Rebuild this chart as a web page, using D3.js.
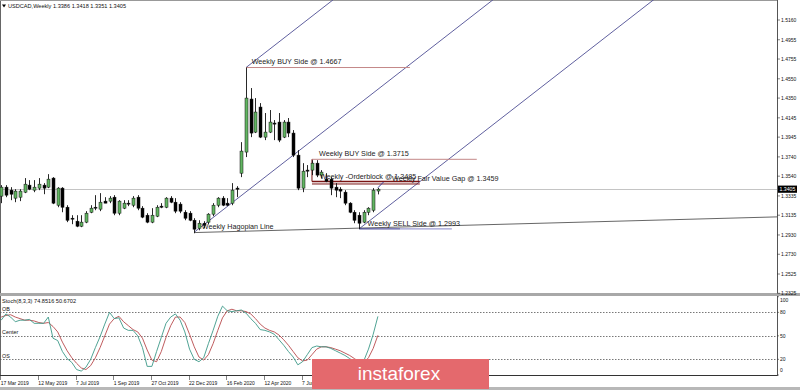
<!DOCTYPE html>
<html>
<head>
<meta charset="utf-8">
<script src="https://cdn.jsdelivr.net/npm/d3@7"></script>
<style>
body { margin: 0; background: #fff; }
svg text { font-family: "Liberation Sans", Arial, sans-serif; }
</style>
</head>
<body>
<div id="chart"></div>
<script>
var W = 800, H = 390,
    axisX = 777,
    mainBot = 293,
    stTop = 296, stBot = 375;

// weekly USDCAD candles, week of 17 Mar 2019 (index 0) .. 27 Sep 2020 (index 80)
var opens  = [1.3333,1.3426,1.3395,1.3312,1.3322,1.3374,1.3447,1.3395,1.3416,1.3447,
              1.3426,1.3520,1.3239,1.3416,1.3218,1.3104,1.3073,1.3021,1.3063,1.3166,
              1.3218,1.3198,1.3281,1.3281,1.3322,1.3156,1.3208,1.3260,1.3239,1.3322,
              1.3208,1.3135,1.3063,1.3125,1.3229,1.3218,1.3312,1.3270,1.3250,1.3166,
              1.3156,1.3083,1.3000,1.3052,1.3063,1.3146,1.3239,1.3312,1.3260,1.3260,
              1.3416,1.3571,1.3790,1.4340,1.3997,1.4257,1.3945,1.3997,1.4091,1.4101,
              1.3945,1.4101,1.3987,1.3758,1.3416,1.3603,1.3603,1.3675,1.3551,1.3509,
              1.3509,1.3426,1.3405,1.3374,1.3260,1.3166,1.3135,1.3063,1.3166,1.3187,
              1.3386];
var highs  = [1.3447,1.3447,1.3426,1.3405,1.3405,1.3520,1.3499,1.3499,1.3520,1.3468,
              1.3561,1.3530,1.3426,1.3426,1.3239,1.3135,1.3135,1.3135,1.3177,1.3239,
              1.3343,1.3364,1.3322,1.3333,1.3343,1.3291,1.3291,1.3291,1.3333,1.3343,
              1.3229,1.3156,1.3208,1.3239,1.3260,1.3322,1.3333,1.3312,1.3270,1.3187,
              1.3177,1.3104,1.3083,1.3073,1.3156,1.3260,1.3322,1.3333,1.3312,1.3468,
              1.3436,1.3893,1.4667,1.4454,1.4350,1.4298,1.4195,1.4226,1.4122,1.4195,
              1.4122,1.4143,1.4018,1.3810,1.3675,1.3655,1.3706,1.3706,1.3603,1.3571,
              1.3530,1.3468,1.3426,1.3395,1.3270,1.3187,1.3166,1.3187,1.3218,1.3416,
              1.3418];
var lows   = [1.3260,1.3322,1.3291,1.3270,1.3281,1.3364,1.3395,1.3374,1.3395,1.3353,
              1.3416,1.3250,1.3218,1.3166,1.3063,1.3042,1.3011,1.3011,1.3052,1.3156,
              1.3187,1.3177,1.3260,1.3260,1.3135,1.3135,1.3198,1.3229,1.3218,1.3187,
              1.3104,1.3052,1.3052,1.3115,1.3208,1.3208,1.3260,1.3156,1.3156,1.3083,
              1.3073,1.2948,1.2979,1.3000,1.3042,1.3125,1.3218,1.3229,1.3229,1.3239,
              1.3322,1.3530,1.3738,1.3945,1.3987,1.3935,1.3914,1.3987,1.3914,1.3893,
              1.3935,1.3945,1.3738,1.3395,1.3374,1.3530,1.3551,1.3530,1.3520,1.3478,
              1.3343,1.3322,1.3312,1.3239,1.3156,1.3052,1.2993,1.3052,1.3135,1.3166,
              1.3351];
var closes = [1.3426,1.3343,1.3353,1.3385,1.3385,1.3457,1.3405,1.3426,1.3457,1.3416,
              1.3509,1.3260,1.3416,1.3218,1.3083,1.3094,1.3021,1.3063,1.3156,1.3208,
              1.3208,1.3270,1.3260,1.3312,1.3156,1.3281,1.3260,1.3250,1.3312,1.3208,
              1.3115,1.3063,1.3135,1.3218,1.3218,1.3312,1.3270,1.3177,1.3177,1.3104,
              1.3083,1.2990,1.3052,1.3031,1.3146,1.3239,1.3312,1.3239,1.3239,1.3395,
              1.3405,1.3800,1.4350,1.3987,1.4205,1.3945,1.3997,1.4101,1.4080,1.3914,
              1.4101,1.3987,1.3758,1.3416,1.3592,1.3592,1.3675,1.3551,1.3582,1.3488,
              1.3416,1.3395,1.3385,1.3260,1.3166,1.3083,1.3052,1.3166,1.3208,1.3395,
              1.3405];

// Stochastic(8,3,3)
var stochMain = [70,78,74,68,70,70,71,66,66,66,74,47,44,30,21,16,7,5,10,20,
                 35,49,65,80,72,73,60,57,57,50,35,11,11,30,48,66,74,78,70,55,
                 33,20,17,22,40,57,75,88,82,81,82,83,79,72,66,58,57,55,52,45,
                 38,30,23,13,17,26,35,37,36,36,34,31,28,25,21,17,14,18,33,52,
                 74.8516];
var stochSignal = [74,76,77,74,72,70,70,69,67,66,67,62,55,42,31,22,15,9,7,12,
                   22,35,50,65,72,75,68,63,58,55,47,32,19,17,30,48,63,74,74,67,
                   52,36,23,19,26,40,57,73,82,84,82,82,81,78,72,65,60,57,55,51,
                   45,38,30,22,18,19,26,33,36,36,35,33,31,28,25,21,17,16,22,34,
                   50.6702];

var priceTicks = [1.5160,1.4955,1.4755,1.4550,1.4350,1.4145,1.3945,1.3740,1.3540,
                  1.3335,1.3135,1.2930,1.2730,1.2525,1.2325];
var stochTicks = [100,80,50,20,0];
var stochLevels = [80,50,20];
var stochLevelNames = ["OB","Center","OS"];
var dateIdx = [0,8,16,24,32,40,48,56,64];
var dateLabels = ["17 Mar 2019","12 May 2019","7 Jul 2019","1 Sep 2019","27 Oct 2019",
                  "22 Dec 2019","16 Feb 2020","12 Apr 2020","7 Jun 2020"];
var lastPrice = 1.3405;

// channel rays: start [index, price], common slope per week
var channelStarts = [[52,1.4667],[41,1.2959],[76,1.2993]];
var channelSlope = 0.0038;
var hagopian = [[41,1.2955],[165,1.3118]];

var svg = d3.select("#chart").append("svg")
    .attr("width", W).attr("height", H);

var x = d3.scaleLinear().domain([0, 80]).range([1.2, 377.9]);
var y = d3.scaleLinear().domain([1.2325, 1.5160]).range([293.3, 20]);
var ys = d3.scaleLinear().domain([0, 100]).range([stBot, 296.7]);

svg.append("defs").append("clipPath").attr("id", "mainclip")
    .append("rect").attr("x", 0).attr("y", 0).attr("width", axisX).attr("height", mainBot);

// frame
svg.append("line").attr("x1", 0.5).attr("x2", 0.5).attr("y1", 0).attr("y2", 376).attr("stroke", "#666");
svg.append("line").attr("x1", 0).attr("x2", axisX).attr("y1", 0.5).attr("y2", 0.5).attr("stroke", "#999");
svg.append("line").attr("x1", axisX + 0.5).attr("x2", axisX + 0.5).attr("y1", 0).attr("y2", 376).attr("stroke", "#555");
svg.append("rect").attr("x", 0).attr("y", 293).attr("width", W).attr("height", 3).attr("fill", "#a8a8a8");
svg.append("line").attr("x1", 0).attr("x2", axisX).attr("y1", 375.5).attr("y2", 375.5).attr("stroke", "#333");
svg.append("rect").attr("x", 0).attr("y", 387).attr("width", W).attr("height", 3).attr("fill", "#b8b8b8");

var main = svg.append("g").attr("clip-path", "url(#mainclip)");

// current price line
main.append("line").attr("x1", 0).attr("x2", axisX)
    .attr("y1", Math.round(y(lastPrice)) + 0.5).attr("y2", Math.round(y(lastPrice)) + 0.5)
    .attr("stroke", "#c4c4c4");

// channel lines
main.selectAll(".chan").data(channelStarts).enter().append("line")
    .attr("x1", d => x(d[0])).attr("y1", d => y(d[1]))
    .attr("x2", d => x(d[0] + 120)).attr("y2", d => y(d[1] + 120 * channelSlope))
    .attr("stroke", "#4e4e94").attr("stroke-width", 0.9);

main.append("line")
    .attr("x1", x(hagopian[0][0])).attr("y1", y(hagopian[0][1]))
    .attr("x2", x(hagopian[1][0])).attr("y2", y(hagopian[1][1]))
    .attr("stroke", "#555").attr("stroke-width", 0.9);

// levels
var levels = [
  {price: 1.4667, from: 52, to: 86.8, color: "#c48888", w: 1},
  {price: 1.3715, from: 66, to: 101, color: "#c48888", w: 1},
  {price: 1.3485, from: 66, to: 88.9, color: "#7a1414", w: 1.5},
  {price: 1.3459, from: 66, to: 88.9, color: "#7a1414", w: 1},
  {price: 1.2993, from: 76, to: 84.7, color: "#2c2c88", w: 1},
  {price: 1.2993, from: 84.7, to: 95.7, color: "#9c9cd2", w: 1.2}
];
main.selectAll(".lvl").data(levels).enter().append("line")
    .attr("x1", d => x(d.from)).attr("x2", d => x(d.to))
    .attr("y1", d => y(d.price)).attr("y2", d => y(d.price))
    .attr("stroke", d => d.color).attr("stroke-width", d => d.w);
main.append("line").attr("x1", x(66)).attr("x2", x(66))
    .attr("y1", y(1.3715)).attr("y2", y(1.3485)).attr("stroke", "#7a1414");
main.append("line").attr("x1", x(80)).attr("x2", x(81.2))
    .attr("y1", y(1.3420)).attr("y2", y(1.3480)).attr("stroke", "#3a3a9a");

// candles
var candles = opens.map((o, i) => ({i: i, o: o, h: highs[i], l: lows[i], c: closes[i]}));
var cg = main.selectAll(".candle").data(candles).enter().append("g");
cg.append("line")
    .attr("x1", d => Math.round(x(d.i)) + 0.5).attr("x2", d => Math.round(x(d.i)) + 0.5)
    .attr("y1", d => y(d.h)).attr("y2", d => y(d.l))
    .attr("stroke", "#111").attr("stroke-width", 0.9);
cg.append("rect")
    .attr("x", d => Math.round(x(d.i)) - 1)
    .attr("y", d => y(Math.max(d.o, d.c)))
    .attr("width", 3)
    .attr("height", d => Math.max(0.8, Math.abs(y(d.o) - y(d.c))))
    .attr("fill", d => d.c >= d.o ? "#62b562" : "#000")
    .attr("stroke", "#111").attr("stroke-width", 0.5);

// annotation texts
var notes = [
  {t: "Weekly BUY Side @ 1.4667", i: 53.2, p: 1.4700},
  {t: "Weekly BUY Side @ 1.3715", i: 67.5, p: 1.3745},
  {t: "Weekly -Orderblock @ 1.3485", i: 67.7, p: 1.3515},
  {t: "Weekly Fair Value Gap @ 1.3459", i: 83, p: 1.3490},
  {t: "Weekly SELL Side @ 1.2993", i: 77.8, p: 1.3027},
  {t: "Weekly Hagopian Line", i: 42.6, p: 1.2990}
];
main.selectAll(".note").data(notes).enter().append("text")
    .attr("x", d => x(d.i)).attr("y", d => y(d.p))
    .attr("font-size", 7.2).attr("fill", "#222").text(d => d.t);

// price axis
var pa = svg.append("g");
pa.selectAll("line").data(priceTicks).enter().append("line")
    .attr("x1", axisX).attr("x2", axisX + 3)
    .attr("y1", d => y(d)).attr("y2", d => y(d)).attr("stroke", "#333").attr("stroke-width", 0.6);
pa.selectAll("text").data(priceTicks).enter().append("text")
    .attr("x", 781).attr("y", d => y(d) + 1.8)
    .attr("font-size", 5).attr("fill", "#111").text(d => d.toFixed(4));
svg.append("rect").attr("x", 778).attr("y", y(lastPrice) - 3.6).attr("width", 19).attr("height", 7.2).attr("fill", "#000");
svg.append("text").attr("x", 779.5).attr("y", y(lastPrice) + 1.9)
    .attr("font-size", 5.2).attr("fill", "#fff").text(lastPrice.toFixed(4));

// title
svg.append("path").attr("d", "M2,4.5 L6,4.5 L4,7.5 Z").attr("fill", "#000");
svg.append("text").attr("x", 8).attr("y", 8).attr("font-size", 5.6).attr("fill", "#111")
    .text("USDCAD,Weekly  " + [opens[80], highs[80], lows[80], closes[80]].map(v => v.toFixed(4)).join(" "));

// stochastic panel
var sg = svg.append("g");
sg.selectAll(".lv").data(stochLevels).enter().append("line")
    .attr("x1", 0).attr("x2", axisX)
    .attr("y1", d => Math.round(ys(d)) + 0.5).attr("y2", d => Math.round(ys(d)) + 0.5)
    .attr("stroke", "#555").attr("stroke-dasharray", "1.5,1.5").attr("stroke-width", 0.8);
sg.selectAll(".lvn").data(stochLevels).enter().append("text")
    .attr("x", 2).attr("y", d => ys(d) - 1.5)
    .attr("font-size", 5.4).attr("fill", "#111").text((d, i) => stochLevelNames[i]);
sg.append("text").attr("x", 2).attr("y", 303).attr("font-size", 5.6).attr("fill", "#111")
    .text("Stoch(8,3,3) " + stochMain[80].toFixed(4) + " " + stochSignal[80].toFixed(4));

var sline = d3.line().x((d, i) => x(i)).y(d => ys(d));
sg.append("path").datum(stochSignal).attr("d", sline)
    .attr("fill", "none").attr("stroke", "#b84a4c").attr("stroke-width", 0.9);
sg.append("path").datum(stochMain).attr("d", sline)
    .attr("fill", "none").attr("stroke", "#3c9888").attr("stroke-width", 0.9);

sg.selectAll(".st").data(stochTicks).enter().append("text")
    .attr("x", 780).attr("y", d => Math.min(372, Math.max(301.5, ys(d) + 1.8)))
    .attr("font-size", 5).attr("fill", "#111").text(d => d);
sg.selectAll(".stt").data(stochTicks).enter().append("line")
    .attr("x1", axisX).attr("x2", axisX + 2)
    .attr("y1", d => ys(d)).attr("y2", d => ys(d)).attr("stroke", "#333").attr("stroke-width", 0.6);

// time axis
var ta = svg.append("g");
ta.selectAll("line").data(dateIdx).enter().append("line")
    .attr("x1", d => Math.round(x(d)) - 0.5).attr("x2", d => Math.round(x(d)) - 0.5)
    .attr("y1", 376).attr("y2", 380).attr("stroke", "#333").attr("stroke-width", 0.6);
ta.selectAll("text").data(dateIdx).enter().append("text")
    .attr("x", d => x(d) - 0.5).attr("y", 384.5)
    .attr("font-size", 5).attr("fill", "#111").text((d, i) => dateLabels[i]);

// watermark logo
svg.append("rect").attr("x", 312).attr("y", 359).attr("width", 177).attr("height", 30).attr("fill", "#e4696d");
svg.append("text").attr("x", 399).attr("y", 380).attr("text-anchor", "middle")
    .attr("font-family", "'Open Sans', 'Noto Sans', sans-serif").attr("font-weight", 300)
    .attr("font-size", 19).attr("fill", "#fff").text("instaforex");
</script>
</body>
</html>
